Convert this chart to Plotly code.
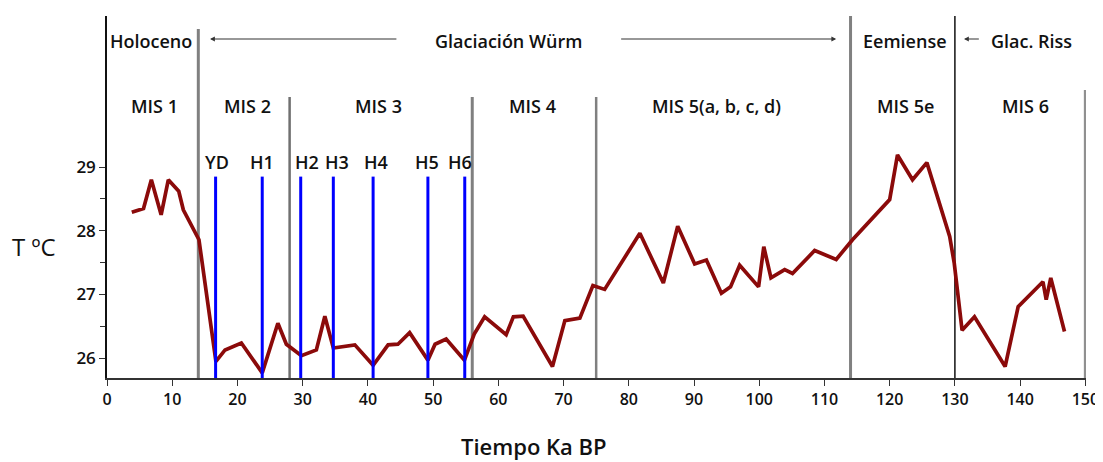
import plotly.graph_objects as go

# ---- data ----
age_ka = [3.8, 5.6, 6.8, 8.3, 9.4, 11.0, 11.7, 14.1, 16.7, 18.1, 20.6, 23.8, 26.2, 27.5,
          29.8, 32.1, 33.4, 34.7, 38.0, 40.8, 43.1, 44.6, 46.4, 49.2, 50.3, 52.0, 54.8,
          56.3, 57.9, 61.2, 62.3, 63.8, 68.3, 70.2, 72.5, 74.5, 76.3, 81.7, 85.3, 87.5,
          90.1, 91.9, 94.2, 95.6, 97.0, 99.9, 100.7, 101.8, 103.9, 105.1, 108.5, 111.8,
          114.3, 120.0, 121.2, 123.5, 125.7, 129.2, 129.9, 131.1, 133.0, 137.7, 139.7,
          143.5, 144.0, 144.7, 146.8]
temp_c = [28.29, 28.35, 28.80, 28.25, 28.80, 28.62, 28.33, 27.86, 25.95, 26.13, 26.24, 25.77,
          26.55, 26.22, 26.04, 26.13, 26.66, 26.16, 26.21, 25.89, 26.21, 26.22, 26.40, 25.97,
          26.22, 26.30, 25.97, 26.38, 26.65, 26.37, 26.65, 26.66, 25.87, 26.59, 26.63, 27.14,
          27.08, 27.96, 27.18, 28.07, 27.48, 27.54, 27.02, 27.12, 27.46, 27.12, 27.75, 27.26,
          27.39, 27.33, 27.69, 27.55, 27.86, 28.49, 29.19, 28.80, 29.07, 27.91, 27.49, 26.44,
          26.65, 25.87, 26.81, 27.20, 26.92, 27.26, 26.42]

# stage boundaries (ka)
boundaries = [14, 28, 56, 75, 114, 130, 150]
boundary_tops_px = [29, 97, 97, 97, 16, 16, 90]
boundary_colors = ["#808080", "#707070", "#808080", "#808080", "#808080", "#111111", "#909090"]
boundary_widths = [3, 2.5, 3, 2.5, 3, 1.5, 3]

mis_labels = ["MIS 1", "MIS 2", "MIS 3", "MIS 4", "MIS 5(a, b, c, d)", "MIS 5e", "MIS 6"]
mis_label_x = [7.3, 21.6, 41.7, 65.2, 93.4, 122.5, 140.9]

events = ["YD", "H1", "H2", "H3", "H4", "H5", "H6"]
event_ages = [16.65, 23.8, 29.7, 34.7, 40.8, 49.2, 54.85]
event_label_x = [16.8, 23.8, 30.6, 35.3, 41.3, 49.0, 54.1]

periods = ["Holoceno", "Glaciación Würm", "Eemiense", "Glac. Riss"]
period_x = [6.8, 61.6, 122.3, 141.7]

xticks = list(range(0, 151, 10))
yticks = [26, 27, 28, 29]
yminor = [26.5, 27.5, 28.5]

YMIN, YMAX = 25.69, 31.37
XMIN, XMAX = 0, 150.1

# ---- figure ----
# the page body has an 8px margin, so the figure is drawn 8px smaller and offset
OFF = 8
W, H = 1103 - OFF, 462 - OFF
ML, MT = 107 - OFF, 16 - OFF
MR, MB = 17, 84
plot_h = H - MT - MB
plot_w = W - ML - MR


def py2paper(py):
    return 1 - (py - OFF - MT) / plot_h


def px2paper(px):
    return (px - OFF - ML) / plot_w


fig = go.Figure()

shapes = []
for b, tp, c, w in zip(boundaries, boundary_tops_px, boundary_colors, boundary_widths):
    shapes.append(dict(type="line", xref="x", yref="paper", x0=b, x1=b,
                       y0=0, y1=py2paper(tp), line=dict(color=c, width=w), layer="below"))
for a in event_ages:
    shapes.append(dict(type="line", xref="x", yref="y", x0=a, x1=a,
                       y0=YMIN, y1=28.85, line=dict(color="#0000FF", width=3)))

fig.add_trace(go.Scatter(x=age_ka, y=temp_c, mode="lines",
                         line=dict(color="#8B0A0A", width=3.7),
                         hoverinfo="x+y", showlegend=False))

annotations = []
font_lbl = dict(family="Open Sans", size=18, color="#111111", weight=600)
for t, x in zip(periods, period_x):
    annotations.append(dict(text=t, x=x, y=py2paper(41), xref="x", yref="paper",
                            showarrow=False, font=font_lbl, xanchor="center", yanchor="middle"))
for t, x in zip(mis_labels, mis_label_x):
    annotations.append(dict(text=t, x=x, y=py2paper(106), xref="x", yref="paper",
                            showarrow=False, font=font_lbl, xanchor="center", yanchor="middle"))
for t, x in zip(events, event_label_x):
    annotations.append(dict(text=t, x=x, y=py2paper(162), xref="x", yref="paper",
                            showarrow=False, font=font_lbl, xanchor="center", yanchor="middle"))

# arrows for the Würm and Riss spans
arrow_y = py2paper(39)
for tip, tail in [(15.8, 44.6), (111.8, 78.6), (131.4, 133.9)]:
    annotations.append(dict(text="", x=tip, y=arrow_y, ax=tail, ay=0,
                            xref="x", yref="paper", axref="x", ayref="pixel",
                            showarrow=True, arrowhead=2, arrowsize=0.8, arrowwidth=1.2,
                            arrowcolor="#333333"))

# axis titles
annotations.append(dict(text="T ºC", x=px2paper(34), y=py2paper(246), xref="paper", yref="paper",
                        showarrow=False, font=dict(family="Open Sans", size=24, color="#111111"),
                        xanchor="center", yanchor="middle"))
annotations.append(dict(text="Tiempo Ka BP", x=px2paper(534), y=py2paper(446),
                        xref="paper", yref="paper", showarrow=False,
                        font=dict(family="Open Sans", size=22, color="#111111", weight=600),
                        xanchor="center", yanchor="middle"))

fig.update_layout(
    template="none",
    width=W, height=H,
    margin=dict(l=ML, r=MR, t=MT, b=MB, autoexpand=False),
    paper_bgcolor="white", plot_bgcolor="white",
    shapes=shapes, annotations=annotations,
    font=dict(family="Open Sans", size=15, color="#111111"),
    showlegend=False,
)
fig.update_xaxes(range=[XMIN, XMAX], tickvals=xticks, ticks="outside", ticklen=6,
                 tickcolor="#333333", showgrid=False, zeroline=False, showline=True,
                 linecolor="#333333", linewidth=1.5, automargin=False,
                 tickfont=dict(family="Open Sans", size=16, color="#111111", weight=600))
fig.update_yaxes(range=[YMIN, YMAX], tickvals=yticks, ticks="outside", ticklen=6,
                 tickcolor="#333333", showgrid=False, zeroline=False, showline=True,
                 linecolor="#111111", linewidth=1.5, automargin=False,
                 minor=dict(tickvals=yminor, ticks="outside", ticklen=5, tickcolor="#333333"),
                 tickfont=dict(family="Open Sans", size=17, color="#111111", weight=600))

fig.write_html("out.html")
